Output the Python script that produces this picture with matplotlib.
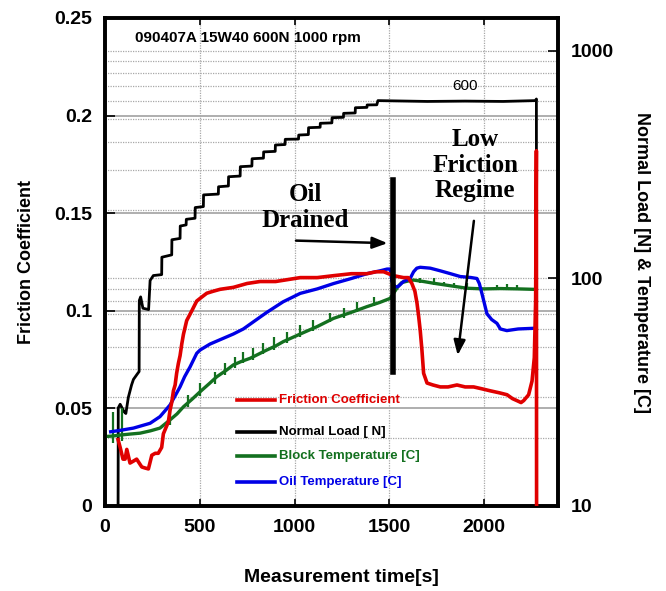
import matplotlib
matplotlib.use("Agg")
import matplotlib.pyplot as plt
from matplotlib.ticker import FixedLocator, NullFormatter, LogLocator

# ---------------- data ----------------
friction_t = [69, 80, 95, 106, 115, 132, 150, 167, 194, 210, 229, 247, 265, 281, 299, 308, 334, 343,
              352, 361, 370, 378, 387, 396, 405, 414, 431, 458, 484, 510, 537, 570, 607, 677, 750,
              818, 900, 1030, 1120, 1206, 1300, 1382, 1430, 1470, 1522, 1575, 1600, 1619, 1635, 1646,
              1655, 1663, 1672, 1681, 1699, 1730, 1769, 1810, 1857, 1900, 1945, 1990, 2033, 2080,
              2121, 2150, 2173, 2195, 2209, 2235, 2253, 2265, 2272, 2276, 2277]
friction_v = [0.034, 0.030, 0.024, 0.024, 0.029, 0.022, 0.023, 0.024, 0.020, 0.0195, 0.019, 0.026,
              0.027, 0.027, 0.030, 0.037, 0.043, 0.049, 0.053, 0.059, 0.062, 0.068, 0.073, 0.077,
              0.083, 0.088, 0.095, 0.100, 0.105, 0.107, 0.109, 0.110, 0.111, 0.112, 0.114, 0.115,
              0.115, 0.117, 0.117, 0.118, 0.119, 0.119, 0.120, 0.120, 0.118, 0.117, 0.117, 0.114,
              0.110, 0.104, 0.097, 0.090, 0.080, 0.068, 0.063, 0.062, 0.061, 0.061, 0.062, 0.061,
              0.061, 0.060, 0.059, 0.058, 0.057, 0.055, 0.054, 0.053, 0.054, 0.057, 0.064, 0.076,
              0.105, 0.182, 0.0]

load_t = [69, 70, 80, 100, 110, 123, 140, 150, 170, 180, 181, 188, 200, 230, 238, 255, 299, 300,
          352, 353, 396, 397, 428, 429, 475, 476, 519, 520, 598, 599, 651, 652, 713, 714, 775, 776,
          836, 837, 898, 899, 950, 951, 1021, 1022, 1073, 1074, 1135, 1136, 1197, 1198, 1258, 1259,
          1320, 1321, 1382, 1383, 1434, 1440, 1700, 1900, 2100, 2270, 2276, 2277]
load_v = [10, 27, 28, 26, 25.5, 30, 34, 36, 38, 39, 80, 83, 74, 73, 98, 103, 104, 124, 127, 148,
          150, 170, 172, 182, 184, 205, 207, 233, 235, 253, 255, 280, 282, 310, 312, 336, 338, 360,
          362, 386, 388, 409, 410, 427, 429, 460, 462, 481, 483, 509, 511, 532, 534, 563, 565, 579,
          580, 605, 600, 602, 600, 605, 615, 10]

oil_t = [30, 80, 150, 238, 290, 343, 370, 396, 420, 449, 484, 502, 554, 600, 677, 730, 800, 854,
         940, 1030, 1120, 1206, 1300, 1382, 1450, 1488, 1505, 1514, 1530, 1545, 1575, 1610, 1628,
         1645, 1663, 1716, 1770, 1822, 1874, 1930, 1962, 1975, 1990, 2015, 2040, 2068, 2086, 2120,
         2180, 2261]
oil_v = [21.2, 21.5, 22.0, 23.1, 24.7, 27.8, 30.5, 33.4, 37, 40.9, 46.9, 48.5, 51.5, 53.5, 57, 60,
         66, 71, 79, 86, 90, 95, 100, 105, 108, 110, 110, 97, 92, 92, 97, 100, 107, 111, 112, 111,
         108, 105, 102, 101, 100, 95, 85, 70, 66, 63.5, 60, 59, 60, 60.4]

block_t = [0, 40, 79, 130, 185, 240, 290, 343, 380, 414, 460, 502, 550, 590, 640, 677, 720, 766,
           810, 854, 900, 941, 1030, 1120, 1206, 1300, 1382, 1450, 1505, 1522, 1545, 1566, 1600,
           1628, 1680, 1734, 1800, 1910, 2000, 2086, 2180, 2261]
block_v = [20.2, 20.3, 20.5, 20.7, 20.9, 21.4, 22, 23.9, 25.4, 27.3, 29.5, 31.8, 34.5, 37, 39.5,
           41.7, 43.2, 44.6, 46.5, 48.5, 50.5, 52.8, 57, 61.5, 66.8, 71, 75.2, 78.5, 81.8, 86, 92,
           96, 97.5, 98.4, 97, 95.3, 93.5, 90.6, 90, 90.3, 90, 89.6]

# visible noise spikes on the block temperature trace (time, low, high)
block_spike_t = [44, 88, 343, 440, 502, 581, 634, 686, 730, 783, 836, 889, 959, 1030, 1100, 1188,
                 1259, 1329, 1417, 1663, 1734, 1786, 1839, 1910, 2068, 2121, 2174]
block_spike_lo = [19.0, 19.3, 22.8, 27.3, 30.3, 34.5, 37.6, 40.6, 42.4, 44.0, 46.4, 48.6, 52.0,
                  55.5, 59.0, 64.5, 67.0, 71.0, 75.5, 95.5, 94.0, 92.5, 91.3, 89.5, 89.2, 89.2, 89.0]
block_spike_hi = [26.0, 27.0, 26.4, 30.8, 34.6, 38.9, 42.4, 45.3, 47.6, 49.3, 51.9, 55.5, 58.3,
                  62.5, 65.8, 70.3, 74.0, 79.0, 83.2, 100.0, 100.0, 96.8, 95.3, 95.3, 93.6, 94.5,
                  93.6]

x_ticks = [0, 500, 1000, 1500, 2000]
friction_ticks = [0, 0.05, 0.1, 0.15, 0.2, 0.25]
friction_tick_labels = ["0", "0.05", "0.1", "0.15", "0.2", "0.25"]
log_ticks = [10, 100, 1000]
log_tick_labels = ["10", "100", "1000"]

legend_labels = ["Friction Coefficient", "Normal Load [ N]", "Block Temperature [C]", "Oil Temperature [C]"]

# ---------------- style ----------------
RED = "#e00000"
BLACK = "#000000"
GREEN = "#13701f"
BLUE = "#0000e6"
GRID = "#a8a8a8"
SANS = ["Liberation Sans", "DejaVu Sans"]
SERIF = ["Liberation Serif", "DejaVu Serif"]
plt.rcParams["font.family"] = SANS

fig = plt.figure(figsize=(6.66, 5.91), dpi=100)
ax = fig.add_axes([105 / 666, 1 - 506 / 591, 453 / 666, 488 / 591])
ax.set_yscale("log")
ax.set_xlim(0, 2390)
ax.set_ylim(10, 1396)
axf = ax.twinx()
axf.set_ylim(0, 0.25)

# axis sides
ax.yaxis.tick_right()
ax.yaxis.set_label_position("right")
axf.yaxis.tick_left()
axf.yaxis.set_label_position("left")

# gridlines on the log (bottom) axes
ax.set_axisbelow(True)
ax.yaxis.set_major_locator(FixedLocator(log_ticks))
ax.yaxis.set_minor_locator(LogLocator(base=10, subs=range(2, 10)))
ax.yaxis.set_minor_formatter(NullFormatter())
ax.set_yticklabels(log_tick_labels)
ax.grid(which="both", axis="y", color=GRID, linestyle=(0, (1, 1)), linewidth=0.9)
ax.set_xticks(x_ticks)
ax.grid(which="major", axis="x", color=GRID, linestyle=(0, (1, 1)), linewidth=0.9)
for v in friction_ticks[1:-1]:
    ax.plot([0, 1], [v / 0.25, v / 0.25], transform=ax.transAxes, color=GRID, lw=1.3, zorder=0.6)

# series
ax.plot(load_t, load_v, color=BLACK, lw=2.0, zorder=3)
ax.vlines(block_spike_t, block_spike_lo, block_spike_hi, color=GREEN, lw=1.6, zorder=3)
ax.plot(block_t, block_v, color=GREEN, lw=2.4, zorder=3)
ax.plot(oil_t, oil_v, color=BLUE, lw=2.4, zorder=3)
axf.plot(friction_t, friction_v, color=RED, lw=2.6, zorder=4)

# ticks
tick_font = dict(fontsize=14, fontweight="bold")
axf.set_yticks(friction_ticks)
axf.set_yticklabels(friction_tick_labels, **tick_font)
ax.set_yticklabels(log_tick_labels, **tick_font)
ax.set_xticklabels([str(v) for v in x_ticks], **tick_font)
ax.tick_params(axis="x", which="major", direction="in", top=True, length=5, width=1.2, pad=9)
ax.tick_params(axis="y", which="major", direction="in", length=7, width=1.2, pad=9)
ax.tick_params(axis="y", which="minor", length=0)
axf.tick_params(axis="y", direction="in", length=7, width=1.2, pad=9)

for a in (ax, axf):
    for s in a.spines.values():
        s.set_linewidth(2.6)
        s.set_color("black")

# axis labels
axf.set_ylabel("Friction Coefficient", fontsize=13, fontweight="bold", labelpad=14)
ax.set_ylabel("Normal Load [N] & Temperature [C]", fontsize=13, fontweight="bold",
              rotation=-90, labelpad=26)
fig.text(341 / 666, 1 - 578 / 591, "Measurement time[s]", fontsize=14, fontweight="bold",
         ha="center", va="center")

# annotations
ax.text(0.066, 0.958, "090407A 15W40 600N 1000 rpm", transform=ax.transAxes,
        fontsize=11, fontweight="bold", va="center", ha="left")
ax.text(1900, 700, "600", fontsize=11, ha="center", va="center")

axf.plot([1521, 1521], [0.0686, 0.167], color="black", lw=4.0, zorder=5)
axf.text(1056, 0.153, "Oil\nDrained", family=SERIF, fontsize=18, fontweight="bold",
         ha="center", va="center", linespacing=1.15)
axf.annotate("", xy=(1505, 0.1346), xytext=(993, 0.136),
             arrowprops=dict(arrowstyle="-|>,head_length=0.9,head_width=0.35", color="black", lw=1.8))
axf.text(1953, 0.1746, "Low\nFriction\nRegime", family=SERIF, fontsize=18, fontweight="bold",
         ha="center", va="center", linespacing=1.15)
axf.annotate("", xy=(1859, 0.0758), xytext=(1948, 0.1475),
             arrowprops=dict(arrowstyle="-|>,head_length=0.9,head_width=0.35", color="black", lw=1.8))

# manual legend
leg_colors = [RED, BLACK, GREEN, BLUE]
leg_y = [0.217, 0.152, 0.102, 0.049]
for lab, c, y in zip(legend_labels, leg_colors, leg_y):
    ax.plot([0.291, 0.375], [y, y], transform=ax.transAxes, color=c, lw=2.6, zorder=5)
    ax.text(0.384, y, lab, transform=ax.transAxes, color=c, fontsize=9.5, fontweight="bold",
            va="center", ha="left", zorder=5)

fig.savefig("out.png", dpi=100)
